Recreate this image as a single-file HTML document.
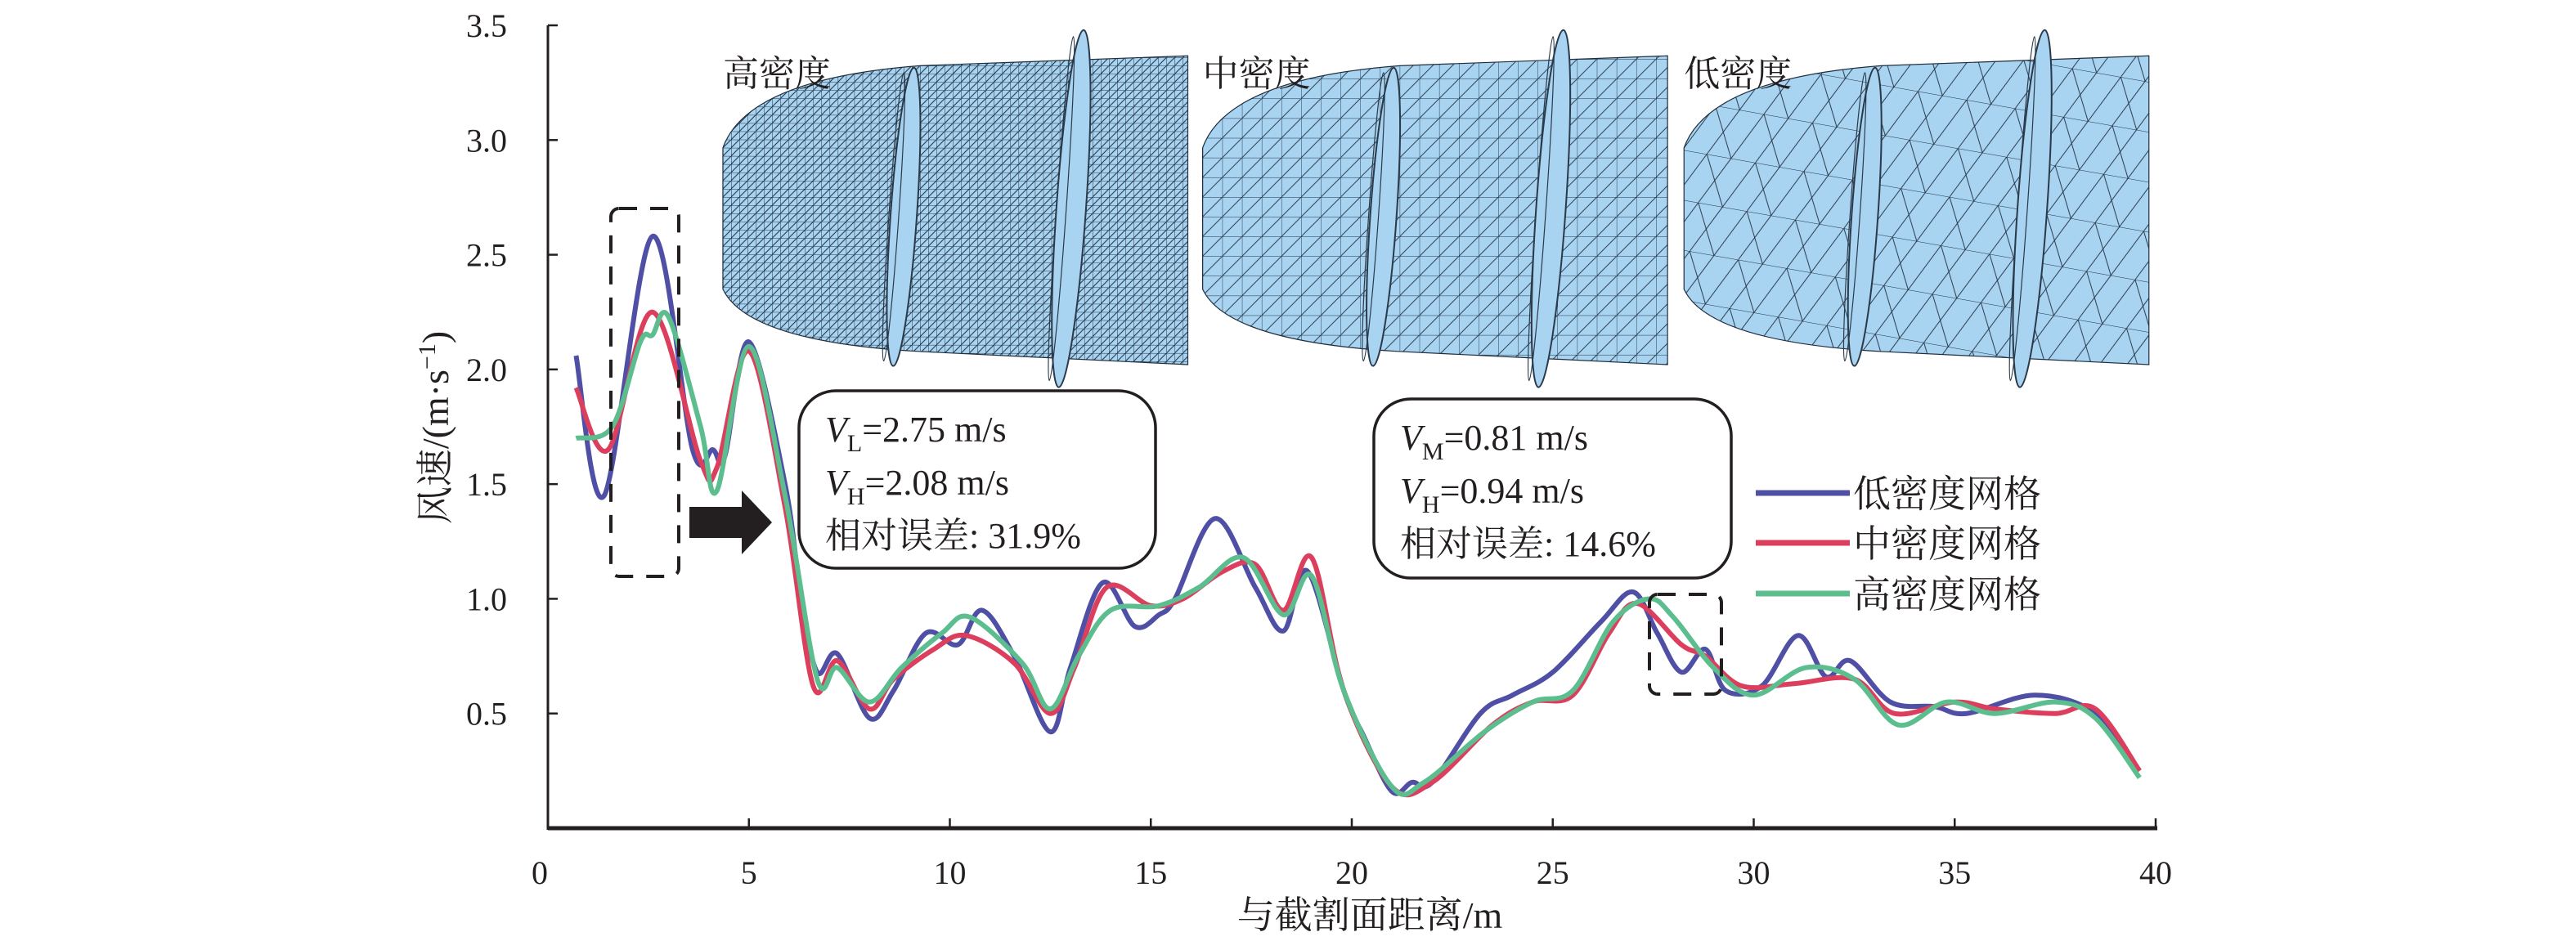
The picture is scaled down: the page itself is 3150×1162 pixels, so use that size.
<!DOCTYPE html>
<html><head><meta charset="utf-8">
<style>
html,body{margin:0;padding:0;background:#fff;}
svg{display:block;}
svg text{font-family:"Liberation Serif","Noto Serif CJK SC",serif;fill:#231f20;}
</style></head>
<body>
<svg id="chart" width="3150" height="1162" viewBox="0 0 3150 1162" xmlns="http://www.w3.org/2000/svg" font-family="'Liberation Serif','Noto Serif CJK SC',serif">
<defs>
  <pattern id="meshHigh" width="5" height="5" patternUnits="userSpaceOnUse">
    <rect width="5" height="5" fill="#a8d3f1"/>
    <path d="M0 0H5M0 0V5M0 5L5 0" stroke="#1e2e3e" stroke-width="0.5" fill="none"/>
  </pattern>
  <pattern id="meshMid" width="12" height="12" patternUnits="userSpaceOnUse">
    <rect width="12" height="12" fill="#a8d3f1"/>
    <path d="M0 0H12M0 0V12M0 12L12 0" stroke="#1e2e3e" stroke-width="0.45" fill="none"/>
  </pattern>
  <pattern id="meshLow" width="30" height="30" patternUnits="userSpaceOnUse" patternTransform="rotate(10)">
    <rect width="30" height="30" fill="#a8d3f1"/>
    <path d="M0 0H30M0 0L15 30L30 0M0 30L15 0" stroke="#1e2e3e" stroke-width="0.45" fill="none"/>
  </pattern>
</defs>
<g id="meshes"></g>
<g id="axes"></g>
<g id="series"></g>
<g id="annot"></g>
</svg>
<script>
const xTicks = [0,5,10,15,20,25,30,35,40];
const yTicks = [0.5,1.0,1.5,2.0,2.5,3.0,3.5];
const yTickLabels = ["0.5","1.0","1.5","2.0","2.5","3.0","3.5"];
const lowX  = [0.7,1.4,2.6,3.6,4.1,4.4,5.0,5.9,6.3,6.7,7.2,8.0,8.6,9.4,10.2,10.8,11.6,12.5,13.0,13.8,14.6,15.2,15.6,16.6,17.6,18.3,18.9,19.8,20.3,21.0,21.5,22.0,23.2,24.0,25.0,26.2,27.0,27.6,28.2,28.8,29.3,30.2,31.1,31.8,32.4,33.4,34.5,35.3,37.0,38.5,39.6];
const lowV  = [2.06,1.45,2.58,1.65,1.65,1.62,2.12,1.5,1.0,0.68,0.76,0.48,0.6,0.85,0.8,0.95,0.75,0.42,0.7,1.07,0.88,0.93,1.0,1.35,1.05,0.86,1.12,0.6,0.4,0.16,0.2,0.2,0.5,0.58,0.68,0.9,1.03,0.85,0.68,0.78,0.6,0.62,0.84,0.66,0.73,0.55,0.53,0.5,0.58,0.5,0.25];
const midX  = [0.7,1.5,2.6,3.8,4.2,5.0,5.9,6.6,7.2,8.0,8.6,9.6,10.4,11.6,12.5,13.1,13.9,15.0,15.8,16.8,17.6,18.3,19.0,19.8,21.0,22.0,23.5,24.5,25.5,26.4,27.1,28.2,28.8,29.7,31.0,32.5,33.5,35.0,36.0,37.5,38.5,39.6];
const midV  = [1.92,1.65,2.25,1.6,1.57,2.08,1.4,0.62,0.73,0.52,0.65,0.78,0.84,0.72,0.5,0.7,1.05,0.97,1.0,1.12,1.15,0.95,1.18,0.6,0.18,0.2,0.45,0.55,0.58,0.85,0.98,0.8,0.75,0.62,0.63,0.65,0.5,0.55,0.52,0.5,0.52,0.25];
const highX = [0.7,1.6,2.3,2.6,3.0,3.8,4.2,5.0,5.9,6.7,7.2,8.0,8.8,9.8,10.5,11.8,12.5,13.2,14.0,15.2,16.2,17.3,18.3,19.0,19.8,21.0,21.8,23.3,24.5,25.5,26.5,27.4,28.0,29.0,30.0,31.3,32.5,33.6,34.8,36.0,37.5,38.5,39.6];
const highV = [1.7,1.75,2.12,2.15,2.23,1.75,1.47,2.1,1.45,0.65,0.7,0.55,0.7,0.85,0.92,0.72,0.52,0.75,0.95,0.97,1.05,1.18,0.93,1.1,0.6,0.18,0.2,0.42,0.55,0.6,0.9,1.0,0.92,0.7,0.58,0.7,0.65,0.45,0.55,0.5,0.55,0.48,0.22];
const seriesNames = ["低密度网格","中密度网格","高密度网格"];

const NS="http://www.w3.org/2000/svg";
const X0=670, X1=2636, Y0=1013, YTOP=31;
function xs(v){return X0+(X1-X0)*v/40;}
function ys(v){return Y0-(Y0-YTOP)*v/3.5;}
function mk(tag,attrs,parent){const e=document.createElementNS(NS,tag);for(const k in attrs)e.setAttribute(k,attrs[k]);parent.appendChild(e);return e;}
const axes=document.getElementById('axes');
const ser=document.getElementById('series');
const ann=document.getElementById('annot');
const meshes=document.getElementById('meshes');

const S=2.009;
const panels=[{L:440,p:"meshHigh",t:"高密度",n:"high-density-mesh"},{L:732,p:"meshMid",t:"中密度",n:"medium-density-mesh"},{L:1025,p:"meshLow",t:"低密度",n:"low-density-mesh"}];
panels.forEach(function(pn){
  const g=mk('g',{transform:'translate('+(pn.L*S)+',0) scale('+S+')'},meshes);
  
  
  mk('path',{d:'M0,90 Q15,48 120,40 L283,34 L283,222 L120,214 Q15,208 0,176 Z',fill:'url(#'+pn.p+')',stroke:'#1e2e3e','stroke-width':0.6},g);
  mk('ellipse',{cx:110,cy:132,rx:8,ry:91,fill:'#a8d3f1',stroke:'#2a3a4a','stroke-width':1,transform:'rotate(4 110 132)'},g);
  mk('ellipse',{cx:104,cy:132,rx:3,ry:88,fill:'none',stroke:'#2a3a4a','stroke-width':0.6,transform:'rotate(4 104 132)'},g);
  mk('ellipse',{cx:212,cy:127,rx:9,ry:109,fill:'#a8d3f1',stroke:'#2a3a4a','stroke-width':1,transform:'rotate(4 212 127)'},g);
  mk('ellipse',{cx:206,cy:127,rx:3,ry:105,fill:'none',stroke:'#2a3a4a','stroke-width':0.6,transform:'rotate(4 206 127)'},g);
  const t=mk('text',{x:pn.L*S,y:105,'font-size':44},meshes);
  t.textContent=pn.t;
  
  
});

mk('line',{x1:X0,y1:Y0,x2:X1+2,y2:Y0,stroke:'#231f20','stroke-width':5},axes);
mk('line',{x1:X0,y1:Y0+2,x2:X0,y2:YTOP,stroke:'#231f20','stroke-width':3},axes);
xTicks.forEach(function(v,i){
  if(v>0) mk('line',{x1:xs(v),y1:Y0,x2:xs(v),y2:Y0-12,stroke:'#231f20','stroke-width':2.5},axes);
  const t=mk('text',{x:xs(v)-(v==0?10:0),y:Y0+68,'font-size':40,'text-anchor':'middle'},axes);
  t.textContent=String(v);
  
  
});
yTicks.forEach(function(v,i){
  mk('line',{x1:X0,y1:ys(v),x2:X0+12,y2:ys(v),stroke:'#231f20','stroke-width':2.5},axes);
  const t=mk('text',{x:X0-50,y:ys(v)+14,'font-size':40,'text-anchor':'end'},axes);
  t.textContent=yTickLabels[i];
  
  
});
const xt=mk('text',{x:1675,y:1135,'font-size':46,'text-anchor':'middle'},axes);
xt.textContent='与截割面距离/m';


const yt=mk('text',{x:0,y:0,'font-size':46,'text-anchor':'middle',transform:'translate(548,523) rotate(-90)'},axes);
yt.innerHTML='风速/(m·s<tspan dy="-16" font-size="30">−1</tspan><tspan dy="16">)</tspan>';



function pathFor(xa,va){
  const p=xa.map(function(x,i){return [xs(x),ys(va[i])];});
  let d='M'+p[0][0]+','+p[0][1];
  for(let i=0;i<p.length-1;i++){
    const p0=p[Math.max(0,i-1)],p1=p[i],p2=p[i+1],p3=p[Math.min(p.length-1,i+2)];
    const c1=[p1[0]+(p2[0]-p0[0])/6,p1[1]+(p2[1]-p0[1])/6];
    const c2=[p2[0]-(p3[0]-p1[0])/6,p2[1]-(p3[1]-p1[1])/6];
    d+=' C'+c1[0]+','+c1[1]+' '+c2[0]+','+c2[1]+' '+p2[0]+','+p2[1];
  }
  return d;
}
const colors=['#4f50a5','#dc3f5d','#5cbd8e'];
const data=[[lowX,lowV],[midX,midV],[highX,highV]];
const snames=['low-density-line','medium-density-line','high-density-line'];
data.forEach(function(dv,i){
  const p=mk('path',{d:pathFor(dv[0],dv[1]),fill:'none',stroke:colors[i],'stroke-width':6,'stroke-linejoin':'round'},ser);
  
  
});

const legY=[603,664,726];
seriesNames.forEach(function(n,i){
  const l=mk('line',{x1:2147,y1:legY[i],x2:2262,y2:legY[i],stroke:colors[i],'stroke-width':7},ann);
  
  
  const t=mk('text',{x:2266,y:legY[i]+17,'font-size':46},ann);
  t.textContent=n;
  
  
});

const d1=mk('rect',{x:747,y:255,width:83,height:450,rx:10,fill:'none',stroke:'#231f20','stroke-width':4,'stroke-dasharray':'22,16'},ann);


const d2=mk('rect',{x:2017,y:727,width:88,height:122,rx:10,fill:'none',stroke:'#231f20','stroke-width':4,'stroke-dasharray':'22,16'},ann);



const ar=mk('path',{d:'M843,620 H907 V600 L944,639 L907,678 V658 H843 Z',fill:'#231f20'},ann);



function box(x,y,w,h,lines,name){
  const g=mk('g',{},ann);
  
  
  mk('rect',{x:x,y:y,width:w,height:h,rx:45,fill:'#fff',stroke:'#231f20','stroke-width':3.5},g);
  lines.forEach(function(html,i){
    const t=mk('text',{x:x+32,y:y+62+i*65,'font-size':44},g);
    t.innerHTML=html;
  });
}
box(977,478,436,217,['<tspan font-style="italic">V</tspan><tspan dy="12" font-size="30">L</tspan><tspan dy="-12">=2.75 m/s</tspan>','<tspan font-style="italic">V</tspan><tspan dy="12" font-size="30">H</tspan><tspan dy="-12">=2.08 m/s</tspan>','相对误差: 31.9%'],'annotation-low-vs-high');
box(1680,488,437,219,['<tspan font-style="italic">V</tspan><tspan dy="12" font-size="30">M</tspan><tspan dy="-12">=0.81 m/s</tspan>','<tspan font-style="italic">V</tspan><tspan dy="12" font-size="30">H</tspan><tspan dy="-12">=0.94 m/s</tspan>','相对误差: 14.6%'],'annotation-mid-vs-high');
</script>
</body></html>
